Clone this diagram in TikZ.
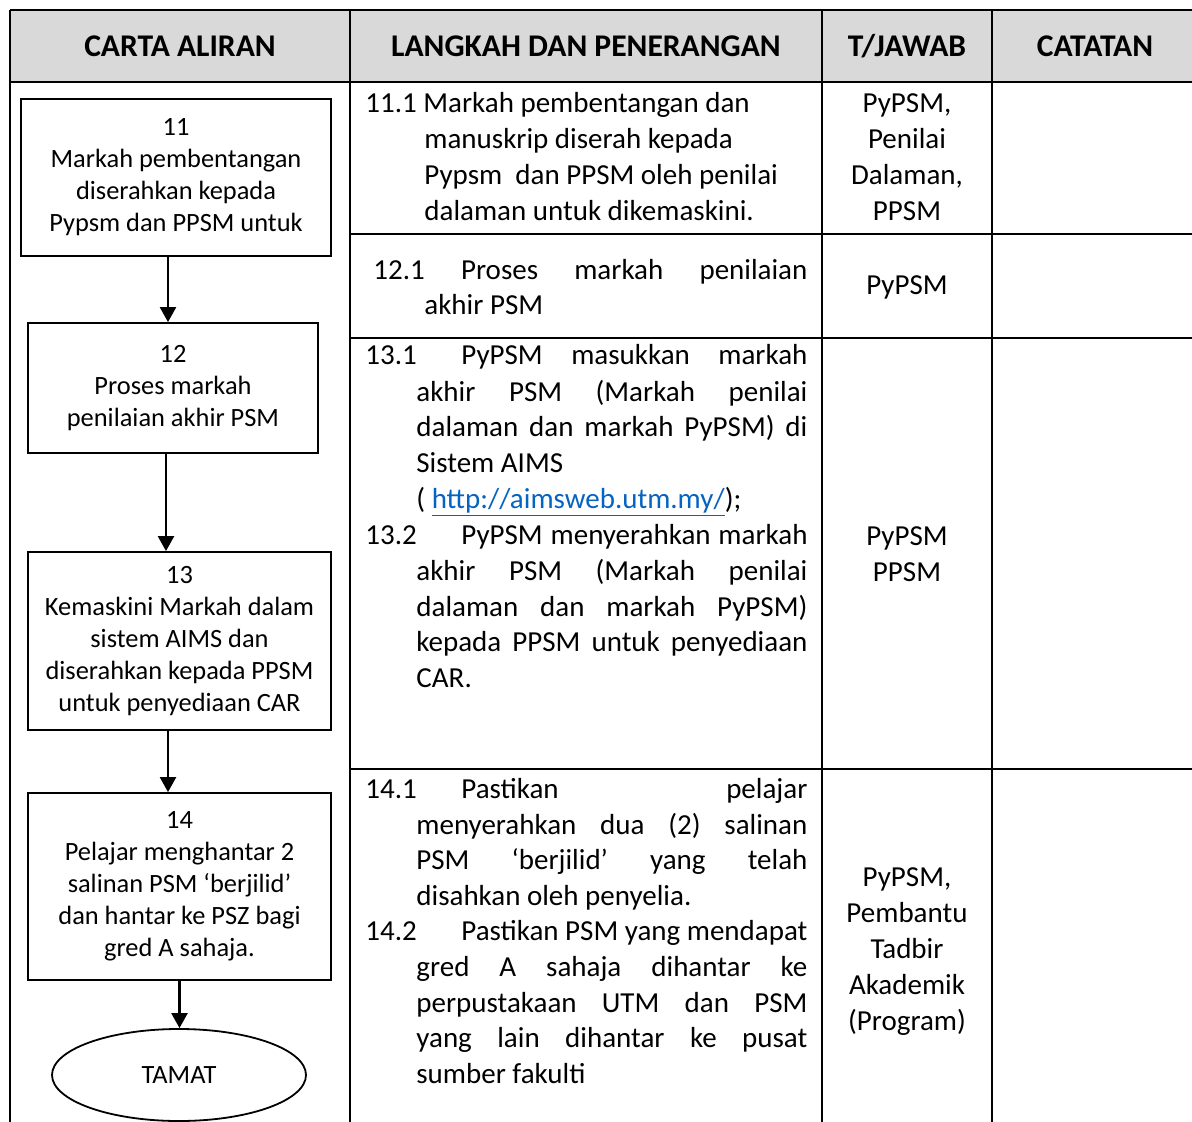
\documentclass[tikz,border=0pt]{standalone}
\usepackage{fontspec}
\setmainfont{Carlito}
\usetikzlibrary{arrows.meta,shapes.geometric}
\definecolor{hdrgray}{HTML}{D9D9D9}
\definecolor{urlblue}{HTML}{0563C1}
\begin{document}
\begin{tikzpicture}[x=0.5pt,y=-0.5pt,
 grid/.style={line width=1pt},
 flowbox/.style={draw,line width=0.9pt,inner sep=0pt,align=center,font=\fontsize{13.2}{16}\selectfont},
 arr/.style={line width=1.2pt,-{Triangle[width=8pt,length=7.5pt]}},
 cell/.style={inner sep=0pt,anchor=base west,font=\fontsize{14.5}{18}\selectfont},
 ccell/.style={inner sep=0pt,anchor=base,font=\fontsize{14.5}{18}\selectfont},
 hdr/.style={inner sep=0pt,anchor=base,font=\fontsize{15.8}{19}\selectfont\bfseries}]
\useasboundingbox (0,0) rectangle (1192,1122);
% table
\fill[hdrgray] (10,10) rectangle (1192,82);
\draw[grid] (10,10) -- (1192,10);
\draw[grid] (10,82) -- (1192,82);
\draw[grid] (10,10) -- (10,1122);
\draw[grid] (350,10) -- (350,1122);
\draw[grid] (822,10) -- (822,1122);
\draw[grid] (992,10) -- (992,1122);
\draw[grid] (350,234) -- (1192,234);
\draw[grid] (350,338) -- (1192,338);
\draw[grid] (350,769) -- (1192,769);
% header
\node[hdr] (h1) at (180,57) {CARTA ALIRAN};
\node[hdr] (h2) at (586,57) {LANGKAH DAN PENERANGAN};
\node[hdr] (h3) at (907,57) {T/JAWAB};
\node[hdr] (h4) at (1095,57) {CATATAN};
% flow chart
\node[flowbox,minimum width=155pt,minimum height=78.5pt] (b11) at (176,177.5)
  {11\\Markah pembentangan\\diserahkan kepada\\Pypsm dan PPSM untuk};
\node[flowbox,minimum width=145pt,minimum height=65pt] (b12) at (173,388)
  {12\\Proses markah\\penilaian akhir PSM};
\node[flowbox,minimum width=151.5pt,minimum height=89pt] (b13) at (179.5,641)
  {13\\Kemaskini Markah dalam\\sistem AIMS dan\\diserahkan kepada PPSM\\untuk penyediaan CAR};
\node[flowbox,minimum width=151.5pt,minimum height=93.5pt] (b14) at (179.5,886.5)
  {14\\Pelajar menghantar 2\\salinan PSM ‘berjilid’\\dan hantar ke PSZ bagi\\gred A sahaja.};
\node[draw,ellipse,line width=0.9pt,inner sep=0pt,minimum width=127pt,minimum height=46pt,
  font=\fontsize{13.2}{16}\selectfont] (end) at (179,1075) {TAMAT};
\draw[arr] ([xshift=-4pt]b11.south) -- ([xshift=-4pt]b11.south |- b12.north);
\draw[arr] ([xshift=-3.5pt]b12.south) -- ([xshift=-3.5pt]b12.south |- b13.north);
\draw[arr] ([xshift=-5.75pt]b13.south) -- ([xshift=-5.75pt]b13.south |- b14.north);
\draw[arr] (b14.south) -- (b14.south |- end.north);
% column 2
\node[cell] (a1) at (365,113) {11.1 Markah pembentangan dan};
\node[cell] (a2) at (424,149) {manuskrip diserah kepada};
\node[cell] (a3) at (424,185) {Pypsm\ \ dan PPSM oleh penilai};
\node[cell] (a4) at (424,221) {dalaman untuk dikemaskini.};
\node[cell] (b1) at (373,280) {\makebox[217pt][s]{12.1 Proses markah penilaian}};
\node[cell] (b2) at (424,315) {akhir PSM};
\node[cell] (c0) at (365,365) {13.1};
\node[cell] (c1) at (461,365) {\makebox[173pt][s]{PyPSM masukkan markah}};
\node[cell] (c2) at (416,401) {\makebox[195.5pt][s]{akhir PSM (Markah penilai}};
\node[cell] (c3) at (416,437) {\makebox[195.5pt][s]{dalaman dan markah PyPSM) di}};
\node[cell] (c4) at (416,472) {Sistem AIMS};
\node[cell] (c5) at (416,508) {( \textcolor{urlblue}{\underline{http://aimsweb.utm.my/}});};
\node[cell] (d0) at (365,544) {13.2};
\node[cell] (d1) at (461,544) {\makebox[173pt][s]{PyPSM menyerahkan markah}};
\node[cell] (d2) at (416,580) {\makebox[195.5pt][s]{akhir PSM (Markah penilai}};
\node[cell] (d3) at (416,616) {\makebox[195.5pt][s]{dalaman dan markah PyPSM)}};
\node[cell] (d4) at (416,651) {\makebox[195.5pt][s]{kepada PPSM untuk penyediaan}};
\node[cell] (d5) at (416,687) {CAR.};
\node[cell] (e0) at (365,798) {14.1};
\node[cell] (e1) at (461,798) {\makebox[173pt][s]{Pastikan pelajar}};
\node[cell] (e2) at (416,834) {\makebox[195.5pt][s]{menyerahkan dua (2) salinan}};
\node[cell] (e3) at (416,869) {\makebox[195.5pt][s]{PSM ‘berjilid’ yang telah}};
\node[cell] (e4) at (416,905) {disahkan oleh penyelia.};
\node[cell] (f0) at (365,940) {14.2};
\node[cell] (f1) at (461,940) {\makebox[173pt][s]{Pastikan PSM yang mendapat}};
\node[cell] (f2) at (416,976) {\makebox[195.5pt][s]{gred A sahaja dihantar ke}};
\node[cell] (f3) at (416,1012) {\makebox[195.5pt][s]{perpustakaan UTM dan PSM}};
\node[cell] (f4) at (416,1047) {\makebox[195.5pt][s]{yang lain dihantar ke pusat}};
\node[cell] (f5) at (416,1083) {sumber fakulti};
% column 3
\node[ccell] (r1) at (907,113) {PyPSM,};
\node[ccell] (r2) at (907,149) {Penilai};
\node[ccell] (r3) at (907,185) {Dalaman,};
\node[ccell] (r4) at (907,221) {PPSM};
\node[ccell] (r5) at (907,295) {PyPSM};
\node[ccell] (r6) at (907,545) {PyPSM};
\node[ccell] (r7) at (907,581) {PPSM};
\node[ccell] (r8) at (907,886) {PyPSM,};
\node[ccell] (r9) at (907,922) {Pembantu};
\node[ccell] (r10) at (907,958) {Tadbir};
\node[ccell] (r11) at (907,994) {Akademik};
\node[ccell] (r12) at (907,1030) {(Program)};
\end{tikzpicture}
\end{document}
